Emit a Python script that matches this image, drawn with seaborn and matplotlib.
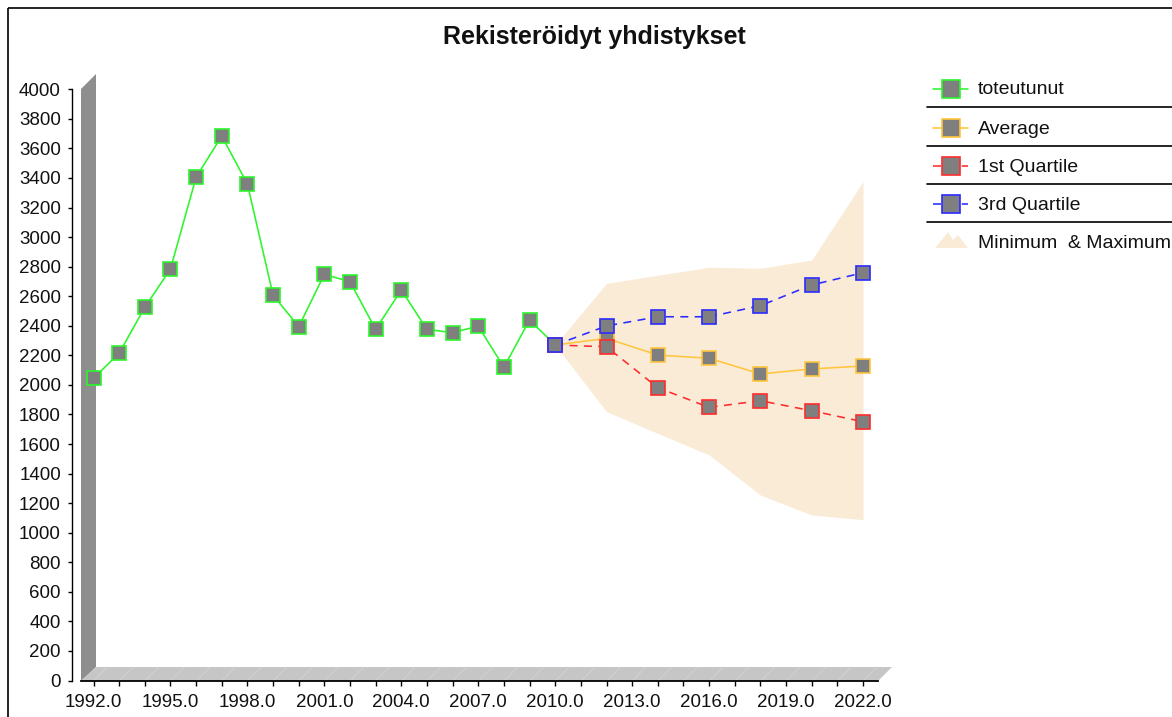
import numpy as np
import pandas as pd
import matplotlib
matplotlib.use("Agg")
import matplotlib.pyplot as plt
import seaborn as sns
from matplotlib.patches import Polygon, Rectangle
from matplotlib.lines import Line2D
from matplotlib.ticker import FixedLocator, FormatStrFormatter

# ===================== 1. 数据 =====================
TITLE = "Rekisteröidyt yhdistykset"

years_actual = [1992, 1993, 1994, 1995, 1996, 1997, 1998, 1999, 2000, 2001,
                2002, 2003, 2004, 2005, 2006, 2007, 2008, 2009, 2010]
toteutunut = [2045, 2214, 2525, 2784, 3405, 3684, 3359, 2608, 2394, 2748,
              2698, 2376, 2642, 2376, 2353, 2398, 2119, 2439, 2270]

years_fc = [2010, 2012, 2014, 2016, 2018, 2020, 2022]
average = [2270, 2315, 2202, 2180, 2074, 2108, 2128]
quartile1 = [2270, 2258, 1981, 1848, 1893, 1825, 1751]
quartile3 = [2270, 2399, 2461, 2461, 2536, 2676, 2759]
minimum = [2270, 1819, 1672, 1526, 1255, 1120, 1088]
maximum = [2270, 2687, 2742, 2796, 2789, 2845, 3375]

x_ticks = [1992, 1995, 1998, 2001, 2004, 2007, 2010, 2013, 2016, 2019, 2022]
y_ticks = [0, 200, 400, 600, 800, 1000, 1200, 1400, 1600, 1800, 2000,
           2200, 2400, 2600, 2800, 3000, 3200, 3400, 3600, 3800, 4000]

labels = ["toteutunut", "Average", "1st Quartile", "3rd Quartile", "Minimum  & Maximum"]

# ===================== 2. 样式 =====================
C_GREEN = "#2cf52c"
C_ORANGE = "#ffc53d"
C_RED = "#ff2b2b"
C_BLUE = "#2b2bff"
C_BAND = "#faebd7"
C_FACE = "#7f7f7f"
DASH = (0, (5, 4))

sns.set_theme(style="white")
plt.rcParams['font.family'] = ['Liberation Sans', 'DejaVu Sans']

W, H = 1172, 717
fig = plt.figure(figsize=(W / 100, H / 100), dpi=100)

# 背景层（像素坐标）：边框、3D墙面、标题、图例
bg = fig.add_axes([0, 0, 1, 1], zorder=0)
bg.set_xlim(0, W)
bg.set_ylim(H, 0)
bg.axis("off")

ax = fig.add_axes([72 / W, (H - 680.5) / H, (900 - 72) / W, (680.5 - 73) / H], zorder=1)
ax.patch.set_alpha(0)

# ===================== 3. 绘制数据 =====================
ax.fill_between(years_fc, minimum, maximum, color=C_BAND, linewidth=0, zorder=1)

mk = dict(marker="s", markersize=9.4, markerfacecolor=C_FACE, markeredgewidth=1.2, linewidth=1.15)
sns.lineplot(x=years_actual, y=toteutunut, ax=ax, color=C_GREEN, markeredgecolor=C_GREEN,
             zorder=3, **mk)
sns.lineplot(x=years_fc, y=average, ax=ax, color=C_ORANGE, markeredgecolor=C_ORANGE,
             zorder=4, **mk)
sns.lineplot(x=years_fc, y=quartile1, ax=ax, color=C_RED, markeredgecolor=C_RED,
             linestyle=DASH, zorder=5, **mk)
sns.lineplot(x=years_fc, y=quartile3, ax=ax, color=C_BLUE, markeredgecolor=C_BLUE,
             linestyle=DASH, zorder=6, **mk)

ax.set_xlim(1992 + (72 - 93.5) / 25.65, 1992 + (900 - 93.5) / 25.65)
ax.set_ylim(0, (680.5 - 73) / 0.1478)

all_years = years_actual + [2011, 2012, 2013, 2014, 2015, 2016, 2017, 2018, 2019, 2020, 2021, 2022]
ax.xaxis.set_major_locator(FixedLocator(x_ticks))
ax.xaxis.set_minor_locator(FixedLocator(all_years))
ax.xaxis.set_major_formatter(FormatStrFormatter("%.1f"))
ax.yaxis.set_major_locator(FixedLocator(y_ticks))

ax.tick_params(axis="both", which="both", direction="out", color="black", width=1,
               labelsize=13.5, labelcolor="#111111")
ax.tick_params(axis="y", length=3, pad=5, left=True)
ax.tick_params(axis="x", which="both", length=3.5, pad=6, bottom=True)

for s in ["top", "right"]:
    ax.spines[s].set_visible(False)
ax.spines["left"].set_color("black")
ax.spines["bottom"].set_color("black")
ax.spines["left"].set_linewidth(1)
ax.spines["bottom"].set_linewidth(1.3)
ax.spines["left"].set_bounds(0, 4000)
ax.spines["bottom"].set_bounds(1992 + (81 - 93.5) / 25.65, 1992 + (878 - 93.5) / 25.65)
ax.set_xlabel("")
ax.set_ylabel("")
ax.grid(False)

# ===================== 4. 3D 墙面与地板 =====================
fig.canvas.draw()
bg.add_patch(Rectangle((8, 8), W, H, fill=False, edgecolor="black", linewidth=1.2))
bg.add_patch(Polygon([(81, 681), (81, 89), (96, 74), (96, 667)], closed=True,
                     facecolor="#8e8e8e", edgecolor="none"))
bg.add_patch(Polygon([(81, 681), (96, 667), (892, 667), (878, 681)], closed=True,
                     facecolor="#c6c6c6", edgecolor="none"))
for yr in all_years:
    px = ax.transData.transform((yr, 0))[0]
    bg.plot([px, px + 14], [681, 667], color="#d4d4d4", linewidth=0.6)

bg.text(594.5, 37, TITLE, ha="center", va="center", fontsize=18, fontweight="bold",
        color="#111111")

# ===================== 5. 图例 =====================
leg_y = [89, 128, 166, 204, 242]
leg_colors = [C_GREEN, C_ORANGE, C_RED, C_BLUE]
leg_styles = ["-", "-", DASH, DASH]
for i in range(4):
    bg.add_line(Line2D([933, 968], [leg_y[i], leg_y[i]], color=leg_colors[i],
                       linestyle=leg_styles[i], linewidth=1.15))
    bg.add_line(Line2D([951], [leg_y[i]], marker="s", markersize=13.5, markerfacecolor=C_FACE,
                       markeredgecolor=leg_colors[i], markeredgewidth=1.2, linestyle="none"))
for i in range(5):
    bg.text(978, leg_y[i] + 1, labels[i], ha="left", va="center", fontsize=14, color="#111111")
for yy in [107, 145.5, 183.5, 222]:
    bg.plot([927, W], [yy, yy], color="black", linewidth=1.2)
bg.add_patch(Polygon([(935, 248), (948, 232), (953, 240), (958, 235), (968, 248)],
                     closed=True, facecolor=C_BAND, edgecolor="none"))

fig.savefig("out.png", dpi=100)
